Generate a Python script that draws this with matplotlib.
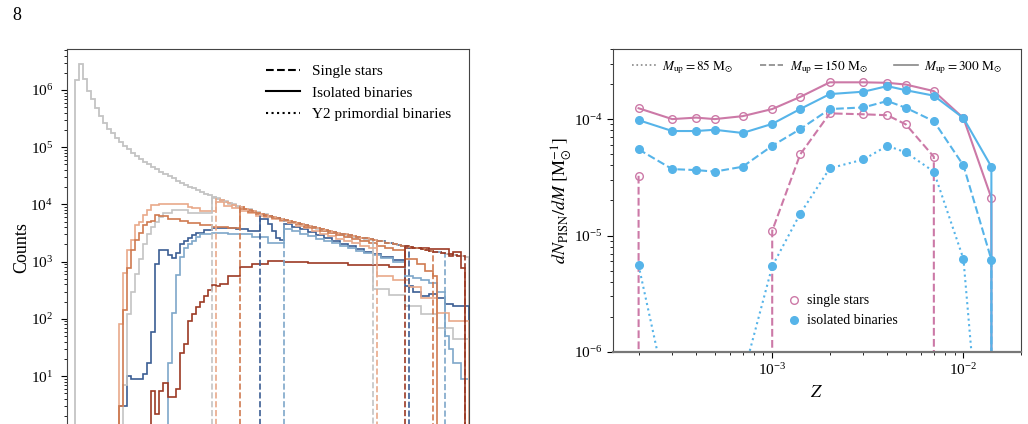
import numpy as np
import matplotlib
matplotlib.use("Agg")
import matplotlib.pyplot as plt
from matplotlib.lines import Line2D

plt.rcParams['font.family'] = ['Liberation Serif', 'DejaVu Serif']
plt.rcParams['mathtext.fontset'] = 'stix'

# ---------------- left panel data (bin edges in mass units, counts) -------------
env_edges = list(range(2, 101))
env_counts = [1.5e6, 2.8e6, 1.54e6, 9.7e5, 7.0e5, 4.8e5, 3.5e5, 2.7e5, 2.1e5, 1.75e5,
              1.47e5, 1.25e5, 1.05e5, 9.2e4, 8.0e4, 7.1e4, 6.3e4, 5.6e4, 5.0e4, 4.5e4,
              4.1e4, 3.7e4, 3.4e4, 3.1e4, 2.85e4, 2.6e4, 2.4e4, 2.2e4, 2.05e4, 1.9e4,
              1.77e4, 1.65e4, 1.54e4, 1.44e4, 1.35e4, 1.26e4, 1.18e4, 1.11e4,
              1.05e4, 9.9e3, 9.4e3, 8.9e3, 8.4e3, 8.0e3, 7.6e3, 7.2e3, 6.9e3, 6.6e3,
              6.3e3, 6.0e3, 5.75e3, 5.5e3, 5.3e3, 5.1e3, 4.9e3, 4.7e3, 4.5e3, 4.35e3,
              4.2e3, 4.0e3, 3.85e3, 3.7e3, 3.6e3, 3.45e3, 3.35e3, 3.2e3, 3.1e3, 3.0e3,
              2.9e3, 2.8e3, 2.7e3, 2.6e3, 2.55e3, 2.45e3, 2.4e3, 2.3e3, 2.25e3, 2.15e3,
              2.1e3, 2.0e3, 1.95e3, 1.9e3, 1.85e3, 1.8e3, 1.75e3, 1.7e3, 1.65e3, 1.6e3,
              1.55e3, 1.5e3, 1.46e3, 1.42e3, 1.38e3, 1.34e3, 1.3e3, 1.27e3, 1.24e3, 1.2e3]

hist_colors = ['#3b5d94', '#7ea7c9', '#c4c4c4', '#e9a98a', '#cf7a50', '#9c3a24']

# single stars: first / last bin edge per colour (they sit on the envelope)
single_lo = [48, 54, 36, 37, 43, 84]
single_hi = [85, 94, 76, 77, 91, 99]

# isolated binaries: (edges, counts) per colour
bin0_edges = [13, 15, 16, 19, 20, 21, 22, 23, 25, 26, 27, 28, 29, 30, 31, 32, 34, 36, 38, 42,
              45, 48, 50, 51, 52, 53, 54, 56, 58, 60, 62, 64, 66, 68, 70, 72, 74, 76, 78, 81,
              84, 86, 88, 90, 92, 94, 96, 100]
bin0_counts = [3, 10, 9, 11, 17, 60, 900, 1600, 1300, 1150, 1400, 2000, 2300, 2600, 2900,
               3200, 3600, 3800, 3900, 3700, 3500, 5500, 4500, 3500, 2600, 2400, 4600, 4100,
               3700, 3300, 2900, 2600, 2300, 2050, 1850, 1650, 1500, 1350, 1200, 1050,
               380, 300, 250, 270, 230, 180, 165]
bin1_edges = [25, 26, 27, 28, 29, 30, 31, 32, 33, 36, 40, 46, 50, 54, 56, 58, 60, 62, 64, 66,
              68, 70, 72, 74, 76, 78, 81, 84, 86, 88, 90, 92, 94, 95, 96, 98, 100]
bin1_counts = [17, 125, 580, 1200, 1700, 2000, 2300, 2700, 3100, 3200, 3000, 2700, 2100,
               3700, 3400, 3100, 2800, 2500, 2300, 2100, 1900, 1700, 1550, 1400, 1300, 1150,
               1000, 550, 520, 480, 430, 300, 50, 30, 17, 9]
bin2_edges = [14, 15, 16, 17, 18, 19, 20, 21, 22, 23, 24, 26, 30, 36, 38, 40, 42, 44, 46, 48,
              50, 52, 54, 56, 58, 60, 62, 64, 66, 68, 70, 72, 74, 76, 80, 84, 88, 92, 96, 100]
bin2_counts = [7, 120, 300, 600, 1100, 2000, 3000, 4000, 5000, 6000, 7000, 8000, 7200,
               1.3e4, 1.15e4, 1.02e4, 9.1e3, 8.2e3, 7.4e3, 6.7e3, 6.1e3, 5.6e3, 5.1e3, 4.7e3,
               4.3e3, 4.0e3, 3.7e3, 3.4e3, 3.15e3, 2.9e3, 2.7e3, 2.55e3, 2.4e3,
               330, 260, 170, 120, 70, 45]
bin3_edges = [13, 14, 15, 16, 17, 18, 19, 20, 21, 23, 30, 31, 33, 37, 39, 41, 43, 45, 47, 49,
              51, 53, 55, 57, 59, 61, 63, 65, 67, 69, 71, 73, 75, 77, 81, 85, 88, 92, 95, 100]
bin3_counts = [80, 630, 1600, 2400, 4400, 4900, 6500, 8000, 9600, 10000, 9000, 8500, 7800,
               1.1e4, 9.5e3, 8.5e3, 7.6e3, 7.0e3, 6.4e3, 6.0e3, 5.6e3, 5.2e3, 4.7e3, 4.2e3,
               3.8e3, 3.4e3, 3.1e3, 2.8e3, 2.5e3, 2.3e3, 2.1e3, 1.9e3, 1.7e3,
               560, 480, 360, 230, 125, 90]
bin4_edges = [13, 14, 15, 16, 17, 18, 19, 20, 21, 22, 23, 25, 28, 30, 33, 36, 40, 43, 45, 47,
              49, 51, 53, 55, 57, 59, 61, 63, 65, 67, 69, 71, 73, 75, 77, 79, 81, 84, 87, 89,
              91, 92]
bin4_counts = [3, 140, 780, 1600, 2400, 3200, 4400, 5000, 5200, 6500, 6200, 5600, 5200, 4700,
               4400, 4100, 3800, 8.2e3, 7.4e3, 6.8e3, 6.2e3, 5.7e3, 5.3e3, 4.9e3, 4.5e3,
               4.1e3, 3.8e3, 3.5e3, 3.2e3, 2.9e3, 2.7e3, 2.5e3, 2.3e3, 2.1e3, 1.9e3, 1.75e3,
               1.6e3, 1100, 900, 700, 560]
bin5_edges = [21, 22, 23, 24, 25, 27, 28, 29, 30, 31, 32, 33, 34, 35, 36, 37, 38, 40, 43, 46,
              50, 54, 60, 70, 80, 84, 90, 95, 96, 98, 99]
bin5_counts = [5.5, 2.2, 5.5, 7.5, 4.3, 6, 25, 36, 90, 120, 160, 200, 250, 320, 390, 380, 400,
               570, 800, 920, 1040, 1000, 950, 880, 800, 1750, 1650, 1250, 1500, 780]

# ---------------- right panel data -------------
Z = [2e-4, 3e-4, 4e-4, 5e-4, 7e-4, 1e-3, 1.4e-3, 2e-3, 3e-3, 4e-3, 5e-3, 7e-3, 1e-2, 1.4e-2, 2e-2]
single_300 = [1.24e-4, 1.0e-4, 1.03e-4, 1.0e-4, 1.06e-4, 1.22e-4, 1.55e-4, 2.07e-4, 2.07e-4,
              2.05e-4, 1.98e-4, 1.74e-4, 1.02e-4, 2.1e-5, 0]
binary_300 = [0.98e-4, 7.9e-5, 7.9e-5, 8.1e-5, 7.6e-5, 9.1e-5, 1.22e-4, 1.64e-4, 1.72e-4,
              1.92e-4, 1.77e-4, 1.59e-4, 1.02e-4, 3.9e-5, 0]
single_150 = [3.26e-5, 0, 0, 0, 0, 1.1e-5, 4.97e-5, 1.12e-4, 1.1e-4, 1.08e-4, 9.0e-5, 4.75e-5,
              0, 0, 0]
binary_150 = [5.5e-5, 3.72e-5, 3.65e-5, 3.54e-5, 3.9e-5, 5.9e-5, 8.2e-5, 1.22e-4, 1.26e-4,
              1.43e-4, 1.25e-4, 9.6e-5, 4.0e-5, 6.2e-6, 0]
binary_85 = [5.56e-6, 2.6e-7, 1e-7, 1e-7, 6e-7, 5.45e-6, 1.54e-5, 3.78e-5, 4.5e-5, 5.9e-5,
             5.18e-5, 3.54e-5, 6.3e-6, 1e-8, 0]

PINK = '#CC79A7'
BLUE = '#56B4E9'

W, H = 1028, 424
fig = plt.figure(figsize=(W / 100, H / 100), dpi=100)

# ---------------- left panel -------------
axL = fig.add_axes([67 / W, 1 - 446 / H, (469 - 67) / W, (446 - 49) / H])
axL.set_yscale('log')
axL.stairs(env_counts, env_edges, color=hist_colors[2], lw=1.3)
bins = [(bin0_edges, bin0_counts), (bin1_edges, bin1_counts), (bin2_edges, bin2_counts),
        (bin3_edges, bin3_counts), (bin4_edges, bin4_counts), (bin5_edges, bin5_counts)]
for i, (e, c) in enumerate(bins):
    axL.stairs(c, e, color=hist_colors[i], lw=1.2)
for i in range(6):
    lo, hi = single_lo[i], single_hi[i]
    c = env_counts[lo - 2:hi - 2]
    axL.stairs(c, list(range(lo, hi + 1)), color=hist_colors[i], lw=1.2, ls='--')
axL.set_xlim(0, 100)
axL.set_ylim(0.6, 5.2e6)
axL.set_ylabel('Counts', fontsize=13, labelpad=0)
axL.tick_params(axis='y', which='major', direction='out', length=4, labelsize=11, pad=6)
axL.tick_params(axis='y', which='minor', direction='out', length=2)
axL.tick_params(axis='x', which='both', bottom=False, labelbottom=False)
for s in axL.spines.values():
    s.set_color('#444444')
legL = [Line2D([], [], color='k', ls='--', lw=1.5),
        Line2D([], [], color='k', ls='-', lw=1.5),
        Line2D([], [], color='k', ls=':', lw=1.5)]
axL.legend(legL, ['Single stars', 'Isolated binaries', 'Y2 primordial binaries'],
           loc='upper right', frameon=False, fontsize=11, handlelength=2.2,
           bbox_to_anchor=(0.99, 0.995))

# ---------------- right panel -------------
axR = fig.add_axes([613 / W, 1 - 352 / H, (1021 - 613) / W, (352 - 49) / H])
axR.set_xscale('log')
axR.set_yscale('log')
ms = 5.5
axR.plot(Z, single_300, color=PINK, ls='-', lw=1.5, marker='o', ms=ms, mfc='none', mec=PINK)
axR.plot(Z, single_150, color=PINK, ls='--', lw=1.5, marker='o', ms=ms, mfc='none', mec=PINK)
axR.plot(Z, binary_300, color=BLUE, ls='-', lw=1.5, marker='o', ms=ms, mfc=BLUE, mec=BLUE)
axR.plot(Z, binary_150, color=BLUE, ls='--', lw=1.5, marker='o', ms=ms, mfc=BLUE, mec=BLUE)
axR.plot(Z, binary_85, color=BLUE, ls=':', lw=1.5, marker='o', ms=ms, mfc=BLUE, mec=BLUE)
axR.set_xlim(1.47e-4, 2.0e-2)
axR.set_ylim(1e-6, 4e-4)
axR.set_xlabel('$Z$', fontsize=13)
axR.set_ylabel(r'$dN_{\rm PISN}/dM\ [\mathrm{M}_{\odot}^{-1}]$', fontsize=13, labelpad=0)
axR.tick_params(which='major', direction='out', length=4, labelsize=11)
axR.tick_params(which='minor', direction='out', length=2)
for s in axR.spines.values():
    s.set_color('#444444')
axR.spines['bottom'].set_color('#777777')
axR.spines['bottom'].set_linewidth(1.6)

g = '#888888'
h1 = [Line2D([], [], color=g, ls=':', lw=1.2),
      Line2D([], [], color=g, ls='--', lw=1.2),
      Line2D([], [], color=g, ls='-', lw=1.2)]
leg1 = axR.legend(h1, [r'$M_{\rm up} = 85\ \mathrm{M}_{\odot}$',
                       r'$M_{\rm up} = 150\ \mathrm{M}_{\odot}$',
                       r'$M_{\rm up} = 300\ \mathrm{M}_{\odot}$'],
                  loc='upper center', ncol=3, frameon=False, fontsize=9.5,
                  bbox_to_anchor=(0.5, 1.01), columnspacing=2.0, handlelength=1.8,
                  handletextpad=0.5)
axR.add_artist(leg1)
h2 = [Line2D([], [], color=PINK, ls='none', marker='o', mfc='none', ms=ms),
      Line2D([], [], color=BLUE, ls='none', marker='o', ms=ms)]
axR.legend(h2, ['single stars', 'isolated binaries'], loc='lower left',
           bbox_to_anchor=(0.40, 0.04), frameon=False, fontsize=10, handlelength=0.8,
           handletextpad=0.5)

fig.text(12 / W, 1 - 16 / H, '8', fontsize=13, va='center', ha='left')

fig.savefig('out.png', dpi=100)
